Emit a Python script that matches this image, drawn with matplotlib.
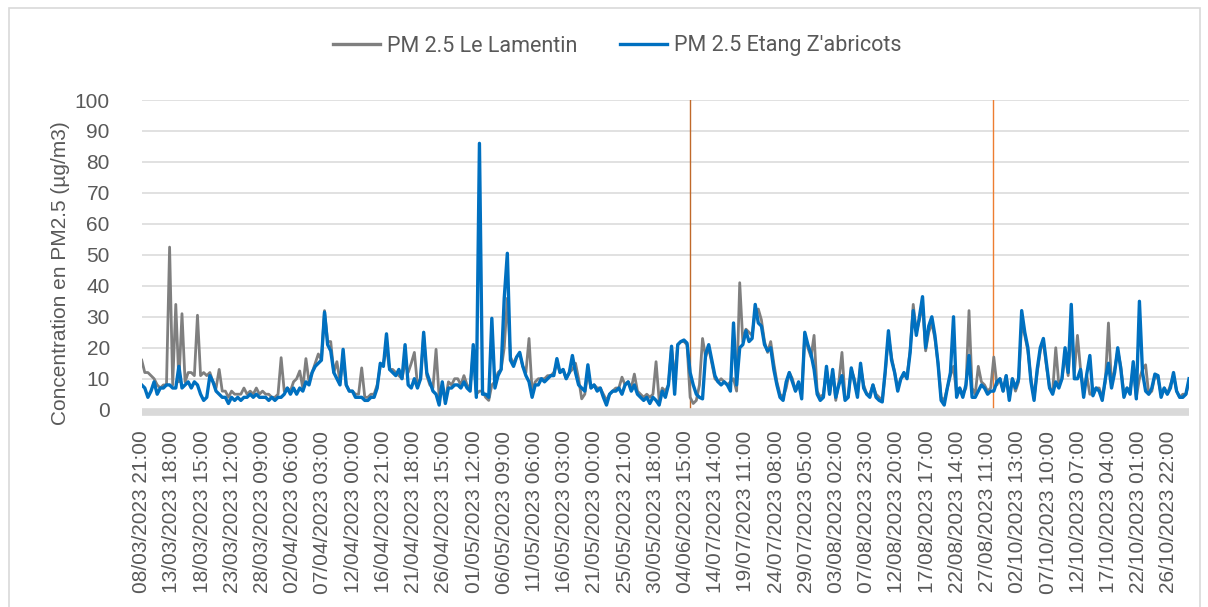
#!/usr/bin/env python3

import matplotlib
matplotlib.use('Agg')
import matplotlib.pyplot as plt
from matplotlib.patches import Rectangle
import numpy as np

plt.rcParams['font.family'] = ['Liberation Sans', 'DejaVu Sans']

# values, one every 12 hours
step_h = 12

lamentin = [
    16, 12, 12, 11, 10, 8, 7, 8, 8, 52.5, 8, 34, 9, 31, 9, 12, 12, 11, 30.5, 11,
    12, 11, 12, 9, 7, 13, 6, 6, 4, 6, 5, 5, 5, 7, 5, 6, 5, 7, 5, 6,
    5, 5, 4, 4, 5, 16.8, 6, 7, 6, 9, 10, 12.5, 7, 16.5, 9, 12, 15, 18, 16, 32,
    22, 22, 12, 15.5, 9, 17, 8, 6, 6, 5, 5, 13.5, 4, 4, 5, 5, 8, 14, 15, 20,
    13, 13, 12, 11, 10, 15, 12, 15, 18.5, 8, 10, 24, 11, 8, 7, 19.5, 4, 8, 3, 9,
    8, 10, 10, 8, 11, 8, 7, 19, 5, 6, 6, 4, 3, 8, 9, 12, 13, 20, 36, 17,
    15, 17, 18, 14, 12, 23, 6, 9, 10, 10, 10, 11, 11, 12, 15, 12, 13, 10, 12, 13,
    15, 10, 3.5, 5, 12, 7, 8, 7, 7, 5, 3, 5, 6, 7, 7, 10.5, 8, 9, 7, 11.5,
    6, 5, 4, 5, 4, 5, 15.5, 3, 7, 6, 8, 20, 10, 21, 22, 22, 21, 4, 2, 3,
    8, 23, 17, 20, 15, 10, 9, 10, 9, 8, 9, 10, 6, 41, 22, 26, 25, 24, 32, 32.5,
    29, 22, 18.5, 22, 15, 9, 5, 4, 7, 12, 10, 6, 8, 5, 24, 20, 17, 24, 6, 4,
    5, 13, 5, 12, 3, 9, 18.5, 4, 4, 13, 10, 5, 14, 8, 5, 5, 8, 5, 4, 3,
    12, 24, 17, 12, 7, 10, 11, 11, 19, 34, 25, 29, 34, 19, 25, 28, 23, 15, 4, 3,
    7, 11, 14, 5, 7, 5, 7, 32, 7, 5, 14, 9, 8, 6, 7, 17, 8, 10, 6, 11,
    4, 10, 6, 9, 28, 24, 19, 10, 4, 12, 19, 22, 14, 7, 6, 20, 8, 10, 18, 11,
    26, 12, 24, 13, 6, 11, 5, 5, 7, 7, 4, 9, 28, 8, 13, 19, 14, 5, 7, 6,
    14, 4, 10, 13, 14.5, 5, 6, 11, 10, 5, 7, 5, 8, 11, 6, 4, 5, 5, 9,
]

etang = [
    8, 7, 4, 6, 9, 5, 7, 7, 8, 8, 7, 7, 14, 7, 8, 9, 7, 9, 8, 5,
    3, 4, 11, 9, 6, 5, 4, 4, 2, 4, 3, 4, 3, 4, 4, 5, 4, 5, 4, 4,
    4, 3, 4, 3, 4, 4, 5, 7, 5, 7, 5, 7, 6, 9, 8, 12, 14, 15, 16, 31.5,
    21, 19, 12, 10, 8, 19.5, 8, 6, 6, 4, 4, 4, 3, 3, 4, 4, 7, 15, 14, 24.5,
    13, 12, 11, 13, 10, 21, 8, 7, 10, 7, 10, 25, 12, 9, 6, 5, 1.5, 9, 2, 7,
    7, 8, 8, 7, 9, 7, 6, 21, 4, 86, 5, 5, 4, 29.5, 7, 11, 13, 36, 50.5, 16,
    14, 17, 18.5, 14, 11, 9, 4, 8, 8, 10, 9, 10, 11, 11, 16.5, 12, 13, 10, 12, 17.5,
    12, 8, 7, 6, 14.5, 7, 8, 6, 7, 4, 1.5, 5, 6, 6, 7, 5, 8, 9, 6, 8,
    5, 4, 3, 4, 2, 4, 3, 1.5, 6, 4, 8, 20.5, 5, 21, 22, 22.5, 21.5, 12, 8, 5,
    4, 3.5, 18, 21, 16, 11, 9, 8, 9, 8, 6, 28, 8, 20, 21, 25.5, 22, 23, 34, 28,
    27, 21, 19, 20, 13, 8, 4, 3, 9, 12, 9, 6, 9, 3.5, 25, 21, 18, 13, 5, 3,
    4, 14, 5, 13, 4, 8, 11, 3, 4, 13.5, 9, 4, 15, 7, 5, 4, 8, 4, 3, 2.5,
    13, 25.5, 16, 12, 6, 10, 12, 10, 18.5, 32, 24, 30, 36.5, 20, 27, 30, 24, 15, 3, 1.5,
    7, 12, 30, 4, 7, 4, 8, 17.5, 4, 4, 6, 8, 7, 5, 6, 6, 9, 10, 6, 11,
    3, 10, 7, 10, 32, 25, 20, 9, 3, 13, 20, 23, 15, 7, 5, 9, 7, 10, 20, 12,
    34, 10, 10, 13, 4, 11.5, 17.5, 4.5, 7, 6, 3, 10, 15, 7, 12, 20, 13, 4, 7, 5,
    15.5, 3.5, 35, 12, 6, 5, 7, 11.5, 11, 4, 7, 5, 7, 12, 6, 4, 4, 5, 10,
]

tick_labels = [
    '08/03/2023 21:00', '13/03/2023 18:00', '18/03/2023 15:00', '23/03/2023 12:00',
    '28/03/2023 09:00', '02/04/2023 06:00', '07/04/2023 03:00', '12/04/2023 00:00',
    '16/04/2023 21:00', '21/04/2023 18:00', '26/04/2023 15:00', '01/05/2023 12:00',
    '06/05/2023 09:00', '11/05/2023 06:00', '16/05/2023 03:00', '21/05/2023 00:00',
    '25/05/2023 21:00', '30/05/2023 18:00', '04/06/2023 15:00', '14/07/2023 14:00',
    '19/07/2023 11:00', '24/07/2023 08:00', '29/07/2023 05:00', '03/08/2023 02:00',
    '07/08/2023 23:00', '12/08/2023 20:00', '17/08/2023 17:00', '22/08/2023 14:00',
    '27/08/2023 11:00', '02/10/2023 13:00', '07/10/2023 10:00', '12/10/2023 07:00',
    '17/10/2023 04:00', '22/10/2023 01:00', '26/10/2023 22:00',
]
label_every_h = 117
# hours where the record has a gap (marked by the orange lines)
gap_hours = [2122, 3296]

grey = '#595959'
x = np.arange(len(etang)) * step_h

fig = plt.figure(figsize=(12.08, 6.07), dpi=100)
fig.patches.append(Rectangle((9 / 1208, -0.1), 1191 / 1208, 1 - 8 / 607 + 0.1,
                             transform=fig.transFigure, fill=False,
                             edgecolor='#D9D9D9', linewidth=1.2))
ax = fig.add_axes([141.7 / 1208, 1 - 409.7 / 607, 1047.3 / 1208, 309.7 / 607])

ax.plot(x, lamentin, color='#7F7F7F', linewidth=2.0, label='PM 2.5 Le Lamentin')
ax.plot(x, etang, color='#0070C0', linewidth=2.4, label="PM 2.5 Etang Z'abricots")
ax.axvline(gap_hours[0], color='#C0692A', linewidth=1.0, zorder=1)
ax.axvline(gap_hours[1], color='#ED7D31', linewidth=1.0, zorder=1)

ax.set_xlim(0, x[-1])
ax.set_ylim(0, 100)
ax.set_yticks(np.arange(0, 101, 10))
ax.set_xticks(np.arange(len(tick_labels)) * label_every_h)
ax.set_xticklabels(tick_labels)
ax.grid(axis='y', color='#D9D9D9', linewidth=1.1)
ax.set_axisbelow(True)
ax.tick_params(length=0, labelcolor=grey, labelsize=15)
ax.tick_params(axis='y', pad=23)
ax.tick_params(axis='x', pad=13, labelrotation=90)
for s in ['top', 'right', 'left']:
    ax.spines[s].set_visible(False)
ax.spines['bottom'].set_color('#D9D9D9')
ax.spines['bottom'].set_linewidth(5.5)
ax.spines['bottom'].set_position(('outward', 2))
ax.spines['bottom'].set_capstyle('butt')

fig.text(61 / 1208, 1 - 273 / 607, 'Concentration en PM2.5 (µg/m3)', rotation=90,
         ha='center', va='center', color=grey, fontsize=15)

leg = fig.legend(loc='center', bbox_to_anchor=(617 / 1208, 1 - 46 / 607), ncol=2,
                 frameon=False, prop={'family': 'Roboto', 'size': 15.5},
                 handlelength=2.2, columnspacing=2.0, handletextpad=0.3)
for t in leg.get_texts():
    t.set_color(grey)
for h in leg.get_lines():
    h.set_linewidth(2.4)

fig.savefig('out.png', dpi=100)
